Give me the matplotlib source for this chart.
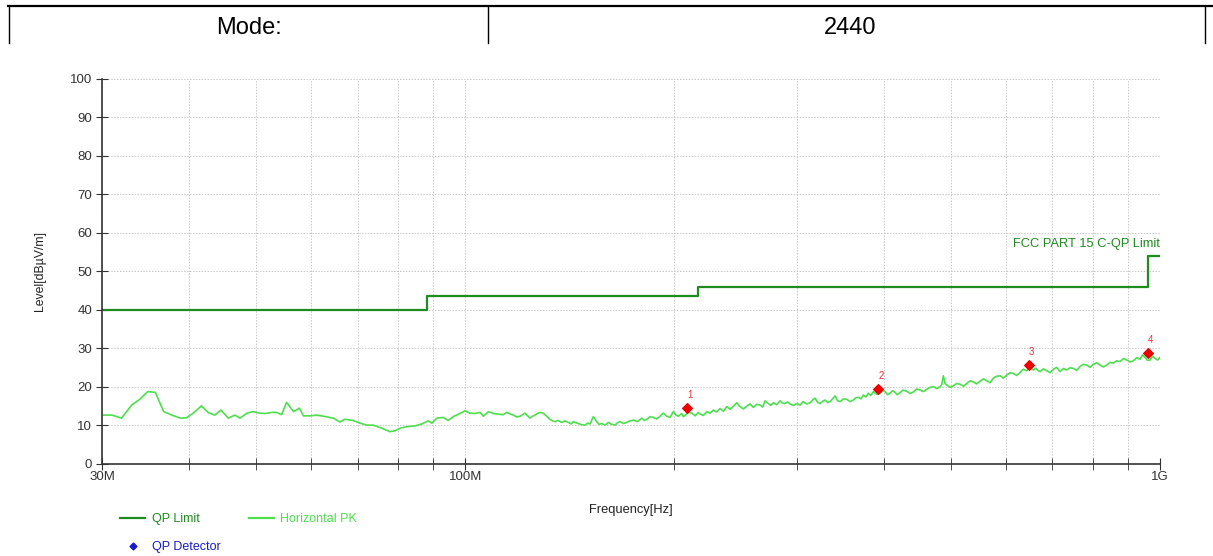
import numpy as np
import matplotlib
matplotlib.use("Agg")
import matplotlib.pyplot as plt
from matplotlib.lines import Line2D
from matplotlib.ticker import FixedLocator, NullFormatter

plt.rcParams['font.family'] = ['Liberation Sans', 'DejaVu Sans']

# header row
mode_label = "Mode:"
mode_value = "2440"

# FCC Part 15 C quasi-peak limit (step edges, MHz / dBuV/m)
limit_freq = [30, 88, 88, 216, 216, 960, 960, 1000]
limit_level = [40, 40, 43.5, 43.5, 46, 46, 54, 54]

# horizontal peak scan (MHz / dBuV/m)
trace_freq = [
    30.0, 31.0, 32.0, 33.1, 34.0, 34.9, 35.8, 36.8, 37.8, 38.9,
    39.7, 40.6, 41.7, 42.7, 43.6, 44.5, 45.6, 46.6, 47.4, 48.5,
    49.5, 50.6, 51.5, 52.7, 53.5, 54.4, 55.3, 56.6, 57.7, 58.5,
    59.8, 61.1, 62.5, 64.6, 66.0, 67.1, 69.0, 70.6, 72.1, 73.7,
    75.8, 77.9, 79.2, 80.6, 82.4, 84.7, 86.6, 88.5, 89.5, 91.0,
    93.0, 94.5, 96.1, 97.7, 99.9, 101.6, 103.3, 105.0, 106.2, 108.0,
    109.8, 112.0,
    113.4, 114.7, 116.0, 117.3, 118.6, 119.9, 121.9, 123.0, 123.9, 125.0,
    126.0, 127.0, 128.1, 129.5, 131.0, 132.4, 133.5, 134.7, 136.0, 137.7,
    139.2, 140.7, 142.0, 143.1, 144.3, 145.5, 147.0, 148.7, 150.0, 151.2,
    152.9, 154.6, 155.8, 157.2, 159.0, 160.7, 162.5, 164.3, 165.6, 167.0,
    168.9, 170.8, 172.7, 174.6, 177.0, 179.5, 181.0, 182.5, 184.5, 186.5,
    188.6, 190.7, 192.8, 195.0, 197.2, 199.3, 201.0, 202.6, 204.9, 206.0,
    207.2, 209.5, 211.9, 214.2, 216.5,
    217.7, 220.2, 222.7, 225.1, 227.6, 230.1, 232.7, 235.3, 237.9, 240.5,
    243.2, 245.9, 248.6, 251.4, 254.2, 257.0, 259.8, 262.7, 265.7, 268.0,
    270.1, 273.0, 275.3, 277.6, 280.7, 283.9, 286.2, 288.6, 291.0, 293.4,
    296.7, 300.0, 303.3, 306.6, 310.1, 313.6, 316.2, 318.8, 321.5, 324.2,
    326.9, 329.6, 332.3, 335.1, 337.9, 340.7, 343.5, 346.4, 350.2, 354.1,
    358.0, 362.0, 365.0, 368.0, 371.1, 374.2, 377.3, 380.4, 383.6, 386.8,
    391.1, 395.5, 398.8, 402.1, 405.4, 408.8, 412.2, 415.7, 418.6, 421.6,
    426.8, 432.0, 436.8, 441.6, 446.5, 451.5, 456.5, 461.6, 466.7, 471.8,
    477.1, 482.5, 485.1, 487.7, 490.5, 493.3, 498.7, 504.2, 509.8, 515.5,
    521.3, 527.1, 532.9, 538.7, 544.8, 550.9, 557.0, 563.2, 569.4, 575.6,
    582.1, 588.6, 595.2, 601.8, 608.4, 615.1, 622.0, 629.0, 636.0, 643.0,
    650.1, 657.3, 662.8, 668.3, 672.0, 679.6, 687.2, 694.7, 702.3, 710.1,
    718.0, 726.1, 734.2, 742.3, 750.5, 758.8, 767.2, 775.9, 784.6, 793.2,
    801.9, 810.8, 819.8, 829.1, 838.4, 847.6, 856.9, 866.4, 876.0, 885.9,
    895.8, 905.7, 915.6, 925.8, 936.1, 943.9, 951.7, 959.6, 967.6, 975.7,
    983.8, 991.9, 1000.0,
]
trace_level = [
    12.7, 12.7, 11.9, 15.3, 16.8, 18.8, 18.6, 13.6, 12.7, 11.9,
    12.0, 13.2, 15.1, 13.3, 12.7, 14.0, 11.9, 12.7, 11.9, 13.2,
    13.6, 13.2, 13.1, 13.4, 13.4, 12.8, 16.0, 13.6, 14.5, 12.5,
    12.5, 12.7, 12.4, 11.9, 10.9, 11.6, 11.3, 10.6, 10.1, 10.1,
    9.3, 8.4, 8.6, 9.3, 9.7, 9.9, 10.4, 11.2, 10.6, 11.9,
    12.1, 11.3, 12.3, 12.9, 13.8, 13.2, 13.1, 13.4, 12.4, 13.6,
    13.1, 12.9,
    12.8, 13.4, 13.0, 12.7, 12.2, 12.4, 13.2, 12.5, 11.9, 12.4,
    12.7, 13.1, 13.4, 13.2, 12.4, 11.6, 11.2, 11.0, 11.3, 10.8,
    11.2, 10.8, 10.4, 11.0, 10.7, 10.5, 10.2, 10.1, 10.6, 10.4,
    12.3, 11.0, 10.3, 10.5, 10.1, 10.8, 10.3, 10.1, 10.7, 11.0,
    10.5, 10.8, 11.2, 11.4, 11.0, 11.9, 11.3, 11.6, 12.3, 12.1,
    11.7, 12.4, 13.2, 12.4, 12.1, 13.6, 12.7, 12.4, 13.1, 12.3,
    12.6, 13.4, 13.2, 12.5, 13.4,
    13.0, 12.6, 13.6, 13.2, 14.0, 13.5, 14.4, 13.7, 14.9, 14.2,
    15.0, 15.9, 14.9, 14.3, 15.0, 15.6, 14.7, 15.5, 15.3, 14.8,
    16.4, 15.7, 15.2, 15.9, 15.4, 16.4, 15.8, 15.7, 16.1, 15.6,
    15.2, 15.7, 15.3, 16.2, 15.6, 15.9, 16.6, 17.1, 16.0, 15.7,
    16.3, 16.6, 16.0, 16.2, 16.9, 17.7, 16.4, 16.2, 16.9, 16.8,
    16.2, 16.6, 17.2, 17.3, 16.9, 17.9, 17.4, 18.4, 17.8, 18.8,
    18.1, 18.4, 19.1, 18.8, 18.0, 18.4, 19.0, 18.6, 18.0, 18.4,
    19.2, 18.9, 18.3, 18.7, 19.5, 19.2, 18.8, 19.4, 19.9, 20.1,
    19.6, 20.1, 20.6, 22.9, 20.9, 20.5, 19.9, 20.3, 20.9, 20.7,
    20.2, 20.9, 21.6, 21.3, 20.8, 21.5, 22.1, 21.6, 21.1, 22.3,
    22.8, 22.9, 22.3, 23.1, 23.7, 23.5, 23.0, 23.8, 24.6, 24.2,
    25.2, 24.4, 24.9, 24.2, 24.0, 24.7, 24.2, 23.7, 24.6, 25.1,
    24.0, 24.8, 24.4, 25.0, 24.8, 24.3, 25.3, 25.9, 25.7, 25.1,
    25.9, 26.3, 25.7, 25.2, 25.7, 26.4, 26.2, 26.8, 26.6, 27.4,
    27.0, 26.5, 26.8, 27.6, 27.2, 28.3, 27.7, 26.9, 27.0, 28.0,
    27.4, 27.0, 27.7,
]

# QP detector readings
qp_freq = [208.5, 392.7, 648.0, 961.0]
qp_level = [14.5, 19.5, 25.7, 28.8]
qp_tags = ["1", "2", "3", "4"]

dark_green = "#1e8c1e"
light_green = "#4ddf4d"

fig = plt.figure(figsize=(12.13, 5.56), dpi=100)

# header table lines
hdr = dict(color="black", linewidth=1.6)
fig.add_artist(Line2D([0.007, 1.0], [0.989, 0.989], **hdr))
fig.add_artist(Line2D([0.0075, 0.0075], [0.922, 0.989], linewidth=1.0, color="black"))
fig.add_artist(Line2D([0.402, 0.402], [0.922, 0.989], linewidth=1.0, color="black"))
fig.add_artist(Line2D([0.9935, 0.9935], [0.922, 0.989], linewidth=1.0, color="black"))
fig.text(0.205, 0.949, mode_label, ha="center", va="center", fontsize=17)
fig.text(0.701, 0.949, mode_value, ha="center", va="center", fontsize=17)

ax = fig.add_axes([0.0841, 0.1655, 0.8722, 0.6925])
ax.plot(limit_freq, limit_level, color=dark_green, linewidth=1.6, label="QP Limit")
ax.plot(trace_freq, trace_level, color=light_green, linewidth=1.2, label="Horizontal PK")
ax.scatter(qp_freq, qp_level, marker="D", s=24, color="#ee0000", zorder=5)
for f, v, t in zip(qp_freq, qp_level, qp_tags):
    ax.annotate(t, (f, v), xytext=(2, 6), textcoords="offset points",
                color="#ee3333", fontsize=7, ha="center", va="bottom")

ax.text(1000, 57.2, "FCC PART 15 C-QP Limit", color=dark_green, fontsize=9.3,
        ha="right", va="center")

ax.set_xscale("log")
ax.set_xlim(30, 1000)
ax.set_ylim(0, 100)
ax.set_yticks(np.arange(0, 101, 10))
ax.xaxis.set_major_locator(FixedLocator([30, 100, 1000]))
ax.xaxis.set_minor_locator(FixedLocator([40, 50, 60, 70, 80, 90, 200, 300, 400,
                                         500, 600, 700, 800, 900]))
ax.set_xticklabels(["30M", "100M", "1G"])
ax.xaxis.set_minor_formatter(NullFormatter())
ax.tick_params(axis="both", which="both", direction="inout", color="#333333",
               labelsize=9.5, labelcolor="#333333")
ax.tick_params(axis="x", which="major", length=8, pad=1)
ax.tick_params(axis="x", which="minor", length=8)
ax.tick_params(axis="y", length=8, pad=3)
ax.grid(True, which="both", color="#c8c8c8", linestyle=(0, (1.5, 1.5)), linewidth=0.7)
for side in ["top", "right"]:
    ax.spines[side].set_visible(False)
for side in ["left", "bottom"]:
    ax.spines[side].set_color("#333333")
    ax.spines[side].set_linewidth(1.2)

ax.set_xlabel("Frequency[Hz]", fontsize=9.3, color="#222222", labelpad=15)
ax.set_ylabel("Level[dBµV/m]", fontsize=8.8, color="#222222", labelpad=17)

handles = [
    Line2D([], [], color=dark_green, linewidth=1.6),
    Line2D([], [], color="#1a1acc", marker="D", markersize=3.5, linestyle="none"),
    Line2D([], [], color=light_green, linewidth=1.6),
]
fig.legend(handles, ["QP Limit", "QP Detector", "Horizontal PK"], ncol=2,
           loc="upper left", bbox_to_anchor=(0.09, 0.097), frameon=False,
           fontsize=9, labelcolor=[dark_green, "#1a1acc", light_green],
           handlelength=2.0, columnspacing=2.3, labelspacing=1.25, handletextpad=0.5)

fig.savefig("out.png", dpi=100)
